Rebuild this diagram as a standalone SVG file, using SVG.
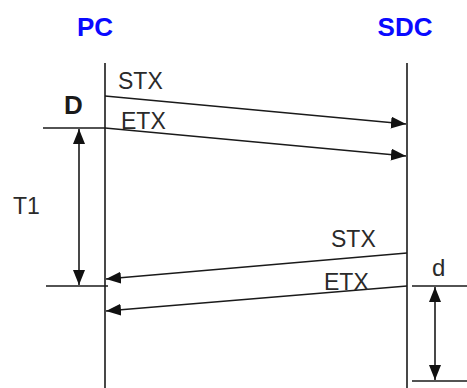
<svg xmlns="http://www.w3.org/2000/svg" width="467" height="388" viewBox="0 0 467 388">
  <style>
    .ln { stroke: #1a1a1a; stroke-width: 1.6; fill: none; }
    .hd { font-family: "Liberation Sans", Arial, sans-serif; font-weight: bold; font-size: 26px; fill: #0a0aff; text-anchor: middle; }
    .lb { font-family: "Liberation Sans", Arial, sans-serif; font-size: 23px; fill: #2a2a2a; }
    .lbb { font-family: "Liberation Sans", Arial, sans-serif; font-size: 26px; font-weight: bold; fill: #1a1a1a; }
  </style>
  <defs>
    <marker id="ah" viewBox="0 0 15 12" refX="15" refY="6" markerWidth="15" markerHeight="12" markerUnits="userSpaceOnUse" orient="auto-start-reverse">
      <path d="M0,0 L15,6 L0,12 Z" fill="#111"/>
    </marker>
  </defs>

  <g id="pc">
    <text class="hd" x="95" y="36">PC</text>
    <line class="ln" x1="105" y1="63" x2="105" y2="388"/>
  </g>

  <g id="sdc">
    <text class="hd" x="405" y="36">SDC</text>
    <line class="ln" x1="407" y1="63" x2="407" y2="388"/>
  </g>

  <g id="connectors">
    <line class="ln" x1="105" y1="96" x2="406" y2="124" marker-end="url(#ah)"/>
    <line class="ln" x1="105" y1="128" x2="406" y2="156" marker-end="url(#ah)"/>
    <line class="ln" x1="407" y1="253" x2="106" y2="279" marker-end="url(#ah)"/>
    <line class="ln" x1="407" y1="286" x2="106" y2="311" marker-end="url(#ah)"/>
  </g>

  <g id="labels">
    <text class="lb" x="118" y="89">STX</text>
    <text class="lb" x="121" y="129">ETX</text>
    <text class="lb" x="331" y="247">STX</text>
    <text class="lb" x="324" y="290">ETX</text>
  </g>

  <g id="dim-T1">
    <line class="ln" x1="43" y1="128" x2="105" y2="128"/>
    <line class="ln" x1="46" y1="286" x2="108" y2="286"/>
    <line class="ln" x1="79" y1="129" x2="79" y2="285" marker-start="url(#ah)" marker-end="url(#ah)"/>
    <text class="lbb" x="64" y="114">D</text>
    <text class="lb" x="13" y="214">T1</text>
  </g>

  <g id="dim-d">
    <line class="ln" x1="412" y1="286" x2="467" y2="286"/>
    <line class="ln" x1="412" y1="381" x2="467" y2="381"/>
    <line class="ln" x1="435" y1="287" x2="435" y2="380" marker-start="url(#ah)" marker-end="url(#ah)"/>
    <text class="lb" x="432" y="276" style="font-size:24px">d</text>
  </g>
</svg>
